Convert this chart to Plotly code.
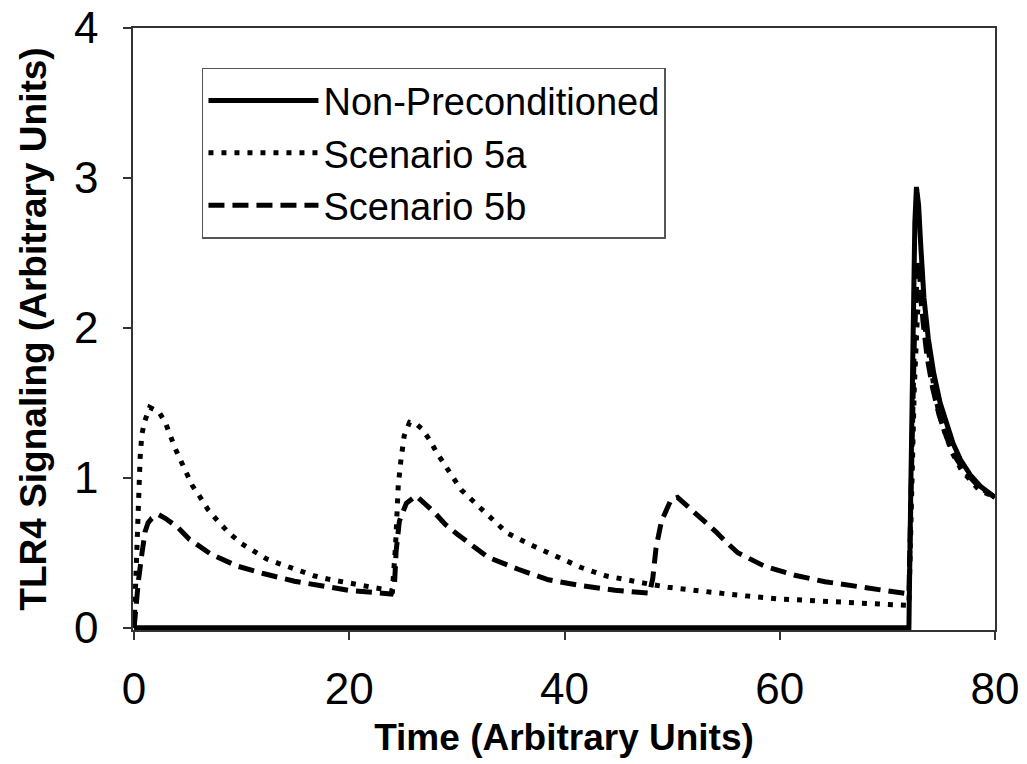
import plotly.graph_objects as go

# ---- data ----
x_non = [0, 72.0, 72.15, 72.35, 72.55, 72.7, 72.9, 73.1, 73.4, 73.8, 74.3, 74.9, 75.5, 76.1, 76.8, 77.7, 78.7, 80]
y_non = [0, 0, 0.8, 1.9, 2.7, 2.94, 2.82, 2.55, 2.2, 1.93, 1.7, 1.5, 1.35, 1.23, 1.12, 1.02, 0.94, 0.87]

x_5a = [0, 0.2, 0.4, 0.56, 0.72, 1.0, 1.45, 2.3, 2.9, 3.35, 3.8, 4.3, 4.85, 5.4, 6.15, 6.85, 7.8, 8.85,
        10.0, 11.2, 12.3, 13.4, 14.6, 15.7, 16.8, 18.0, 19.1, 20.25, 21.4, 22.5, 23.4, 24.0,
        24.3, 24.55, 24.8, 25.1, 25.6, 26.2, 26.7, 27.5, 28.1, 28.9, 30.4, 32.6, 34.7, 37.1, 39.4,
        41.6, 43.9, 46.2, 48.0, 49.6, 51.9, 54.2, 56.4, 59.8, 63.3, 66.7, 70.1, 72.0,
        72.2, 72.5, 72.8, 73.0, 73.3, 73.6, 74.0, 74.5, 75.2, 76.0, 76.9, 78.5, 80]
y_5a = [0, 0.45, 0.82, 1.13, 1.29, 1.38, 1.47, 1.44, 1.37, 1.28, 1.2, 1.12, 1.03, 0.95, 0.87, 0.79, 0.71, 0.63,
        0.56, 0.51, 0.46, 0.43, 0.40, 0.37, 0.345, 0.325, 0.31, 0.29, 0.275, 0.26, 0.25, 0.245,
        0.55, 0.95, 1.12, 1.28, 1.37, 1.36, 1.33, 1.25, 1.17, 1.08, 0.92, 0.77, 0.63, 0.545, 0.47,
        0.40, 0.345, 0.31, 0.29, 0.27, 0.25, 0.227, 0.215, 0.193, 0.178, 0.167, 0.155, 0.15,
        0.8, 1.6, 2.1, 2.22, 2.1, 1.95, 1.72, 1.52, 1.33, 1.17, 1.05, 0.92, 0.87]

x_5b = [0, 0.1, 0.4, 0.72, 1.02, 1.3, 1.65, 2.27, 2.9, 4.06, 5.14, 7.15, 9.64, 12.1, 14.9, 17.4, 19.9, 22.7,
        23.9, 24.2, 24.35, 24.65, 25.3, 26.2, 27.9, 28.9, 30.1, 32.9, 35.7, 38.5, 41.6, 44.7, 47.5,
        47.9, 48.2, 48.5, 49.0, 49.9, 50.5, 50.9, 52.4, 54.0, 54.9, 56.1, 58.6, 61.4, 64.2, 66.7, 69.2, 71.5,
        72.0, 72.2, 72.5, 72.8, 73.0, 73.3, 73.7, 74.2, 74.8, 75.5, 76.3, 77.2, 78.5, 80]
y_5b = [0, 0.09, 0.31, 0.49, 0.64, 0.70, 0.73, 0.755, 0.73, 0.67, 0.59, 0.49, 0.41, 0.36, 0.31, 0.28, 0.25, 0.233,
        0.225, 0.29, 0.51, 0.71, 0.83, 0.88, 0.77, 0.69, 0.62, 0.47, 0.39, 0.32, 0.28, 0.25, 0.233,
        0.23, 0.33, 0.53, 0.71, 0.855, 0.87, 0.845, 0.745, 0.645, 0.58, 0.50, 0.41, 0.35, 0.307, 0.28, 0.25, 0.233,
        0.225, 0.9, 1.9, 2.45, 2.35, 2.05, 1.8, 1.6, 1.42, 1.27, 1.14, 1.04, 0.94, 0.87]

names = ["Non-Preconditioned", "Scenario 5a", "Scenario 5b"]
x_ticks = [0, 20, 40, 60, 80]
y_ticks = [0, 1, 2, 3, 4]

fig = go.Figure()
fig.add_trace(go.Scatter(x=x_non, y=y_non, mode="lines", name=names[0],
                         line=dict(color="black", width=5)))
fig.add_trace(go.Scatter(x=x_5a, y=y_5a, mode="lines", name=names[1],
                         line=dict(color="black", width=5, dash="5px,8px")))
fig.add_trace(go.Scatter(x=x_5b, y=y_5b, mode="lines", name=names[2],
                         line=dict(color="black", width=5, dash="16px,8px")))

tick_font = dict(family="Liberation Sans Narrow, Arial Narrow, Liberation Sans, Arial", size=44, color="black")
title_font = dict(family="Liberation Sans, Arial", size=37, color="black")

fig.update_layout(
    width=1027, height=764,
    margin=dict(l=133, r=32, t=28, b=134),
    paper_bgcolor="white", plot_bgcolor="white",
    showlegend=True,
    legend=dict(
        x=0.08, y=0.934, xanchor="left", yanchor="top",
        bgcolor="white", bordercolor="#555555", borderwidth=1.5,
        font=dict(family="Liberation Sans, Arial", size=38, color="black"),
        itemwidth=110, tracegroupgap=0,
    ),
    xaxis=dict(
        range=[-0.1, 80], tickvals=x_ticks, ticktext=[str(v) for v in x_ticks],
        showline=True, linecolor="#333333", linewidth=1.5, mirror=True,
        ticks="outside", ticklen=8, tickcolor="#333333", tickwidth=1.5,
        showgrid=False, zeroline=False, tickfont=tick_font, automargin=False,
        title=dict(text="<b>Time (Arbitrary Units)</b>", font=title_font, standoff=13),
        ticklabelstandoff=11,
    ),
    yaxis=dict(
        range=[-0.015, 4], tickvals=y_ticks, ticktext=[str(v) for v in y_ticks],
        showline=True, linecolor="#333333", linewidth=1.5, mirror=True,
        ticks="outside", ticklen=8, tickcolor="#333333", tickwidth=1.5,
        showgrid=False, zeroline=False, tickfont=tick_font, automargin=False,
        title=dict(text="<b>TLR4 Signaling (Arbitrary Units)</b>", font=title_font, standoff=16),
        ticklabelstandoff=16,
    ),
)

fig.write_html("out.html")
